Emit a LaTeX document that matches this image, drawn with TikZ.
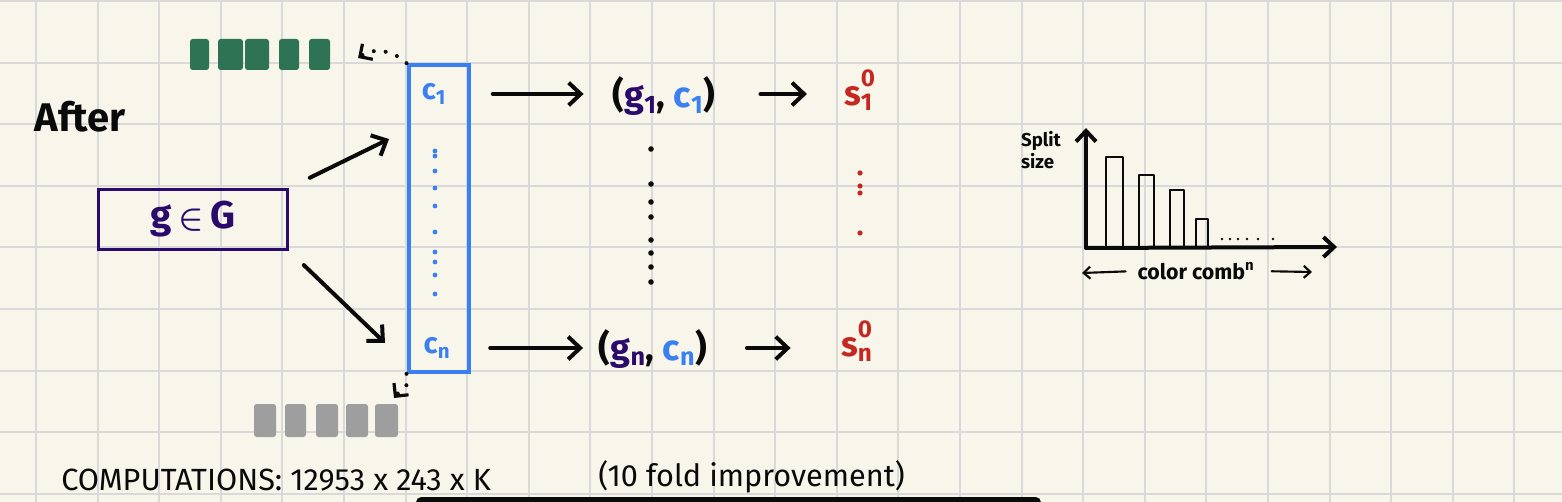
\documentclass[tikz,border=0pt]{standalone}
\usepackage{amsmath}
\usepackage{fontspec}
\setmainfont{Fira Sans}
\usepackage{tikz}
\usetikzlibrary{arrows.meta}

\definecolor{paper}{RGB}{248,246,234}
\definecolor{gridgray}{RGB}{217,217,217}
\definecolor{inkblack}{RGB}{10,10,10}
\definecolor{inkpurple}{RGB}{42,10,107}
\definecolor{inkblue}{RGB}{59,128,240}
\definecolor{inkgreen}{RGB}{47,115,85}
\definecolor{inkgray}{RGB}{158,158,158}
\definecolor{inkred}{RGB}{196,40,32}

\begin{document}
\begin{tikzpicture}[x=0.75pt,y=0.75pt,yscale=-1,xscale=1,
	hand/.style={line width=3pt,line cap=round,line join=round,inkblack},
	arr/.style={hand,-{Straight Barb[length=9pt,width=17pt,line width=3pt]}},
	smallarr/.style={line width=1.6pt,line cap=round,inkblack,-{Straight Barb[length=5pt,width=9pt,line width=1.6pt]}},
	dotarr/.style={line width=3pt,line cap=round,inkblack,dash pattern=on 0pt off 9pt,-{Straight Barb[length=7pt,width=14pt,line width=2.4pt]}},
	lbl/.style={inner sep=0.75pt,font=\bfseries\fontsize{27}{30}\selectfont,text=inkblack}]
	\path[use as bounding box] (0,0) rectangle (1562,502);
	\clip (0,0) rectangle (1562,502);
	
	%Paper and grid
	\fill[paper] (0,0) rectangle (1562,502);
	\foreach \i in {0,...,24} \draw[gridgray,line width=1.5pt] ({36+61.6*\i},0) -- ({36+61.6*\i},502);
	\foreach \j in {0,...,8} \draw[gridgray,line width=1.5pt] (0,{1+61.6*\j}) -- (1562,{1+61.6*\j});
	
	% Text Node
	\node[lbl,font=\bfseries\fontsize{30}{34}\selectfont] (after) at (80,117) {After};
	
	%Shape: Rectangle
	\node[draw=inkpurple,line width=2.6pt,minimum width=142pt,minimum height=45pt,inner sep=0pt,
		text=inkpurple,font=\bfseries\fontsize{29}{32}\selectfont] (ggbox) at (193,219.5) {g\,$\boldsymbol{\in}$\,G\hspace{12pt}};
	
	%Shape: Rectangle
	\node[draw=inkblue,line width=3pt,minimum width=45pt,minimum height=230pt,inner sep=0pt] (col) at (438.5,218.5) {};
	
	% Text Node
	\node[lbl,text=inkblue,font=\bfseries\fontsize{22}{26}\selectfont] (c1) at (434,94) {c\textsubscript{1}};
	% Text Node
	\node[lbl,text=inkblue,font=\bfseries\fontsize{22}{26}\selectfont] (cn) at (437,348) {c\textsubscript{n}};
	
	%Blue dots
	\foreach \y in {151,156,171,188,206,232,252,262,275,294} \fill[inkblue] (435,\y) circle[radius=2.4];
	
	%Green blocks
	\foreach \a/\b in {190/209,218/243,245/269,279/299,309/330} \fill[inkgreen,rounded corners=2pt] (\a,39) rectangle (\b,70);
	%Gray blocks
	\foreach \a/\b in {254/276,285/306,316/338,346/368,375/398} \fill[inkgray,rounded corners=2pt] (\a,404) rectangle (\b,437);
	
	\coordinate (greentip) at (358,58);
	\coordinate (graytip) at (394,398);
	%Dotted arrows
	\draw[dotarr] (col.north west) .. controls (395,52) and (376,46) .. (greentip);
	\draw[dotarr] (col.south west) .. controls (412,386) and (402,388) .. (graytip);
	
	\coordinate (uptip) at (389,139);
	\coordinate (dntip) at (385,343);
	%Arrows out of the box
	\draw[arr,shorten <=17pt] (ggbox.north east) -- (uptip);
	\draw[arr,shorten <=15pt] (ggbox.south east) -- (dntip);
	
	% Text Node
	\node[lbl] (pair1) at (664,96) {({\color{inkpurple}g\textsubscript{1}}, {\color{inkblue}c\textsubscript{1}})};
	% Text Node
	\node[lbl] (pairn) at (653,349) {({\color{inkpurple}g\textsubscript{n}}, {\color{inkblue}c\textsubscript{n}})};
	% Text Node
	\node[lbl,text=inkred,font=\bfseries\fontsize{26}{30}\selectfont] (s1) at (860,90) {s\rlap{\textsubscript{1}}\textsuperscript{\raisebox{5pt}{0}}};
	% Text Node
	\node[lbl,text=inkred,font=\bfseries\fontsize{26}{30}\selectfont] (sn) at (857,341) {s\rlap{\textsubscript{n}}\textsuperscript{\raisebox{5pt}{0}}};
	
	%Straight Lines
	\draw[arr,shorten <=34pt,shorten >=21pt] (c1) -- (pair1.west |- c1);
	\draw[arr,shorten <=29pt,shorten >=11pt] (cn) -- (pairn.west |- cn);
	\draw[arr,shorten <=33pt,shorten >=27pt] (pair1.east |- c1) -- (s1.west |- c1);
	\draw[arr,shorten <=29pt,shorten >=37pt] (pairn.east |- cn) -- (sn.west |- cn);
	
	%Black dots
	\foreach \y in {149,184,202,217,240,253,267,282} \fill[inkblack] (651,\y) circle[radius=2.8];
	%Red dots
	\foreach \y in {173,186,193,233} \fill[inkred] (860,\y) circle[radius=2.6];
	
	%Chart
	\coordinate (orig) at (1086,248);
	\draw[arr,-{Straight Barb[length=8pt,width=15pt,line width=3pt]}] (orig) -- (1086,128);
	\draw[arr,-{Straight Barb[length=8pt,width=15pt,line width=3pt]}] (orig) -- (1337,247);
	\foreach \a/\b/\t in {1106/1123/157,1139/1154/175,1170/1184/190,1196/1208/219}
		\draw[line width=1.6pt,inkblack,line join=round] (\a,247) -- (\a,\t) -- (\b,\t) -- (\b,247);
	\foreach \x in {1222,1230,1238,1247,1258,1273} \fill[inkblack] (\x,239) circle[radius=1.4];
	
	% Text Node
	\node[lbl,align=left,font=\bfseries\fontsize{14}{17}\selectfont] (split) at (1041,150) {Split\\size};
	% Text Node
	\node[lbl,font=\bfseries\fontsize{16}{18}\selectfont] (comb) at (1196,271) {color comb\textsuperscript{n}};
	\coordinate (combl) at (1082,273);
	\coordinate (combr) at (1312,272);
	\draw[smallarr,shorten <=8pt] (comb.west) -- (combl);
	\draw[smallarr,shorten <=12pt] (comb.east) -- (combr);
	
	% Text Node
	\node[lbl,anchor=west,font=\fontsize{23}{26}\selectfont] (comp) at (60,480) {COMPUTATIONS: 12953 x 243 x K};
	% Text Node
	\node[lbl,anchor=west,font=\fontsize{23}{26}\selectfont] (fold) at (597,477) {(10 fold improvement)};
	
	%Bottom bar
	\fill[inkblack,rounded corners=4pt] (416,497) rectangle (1041,512);
	
\end{tikzpicture}
\end{document}
